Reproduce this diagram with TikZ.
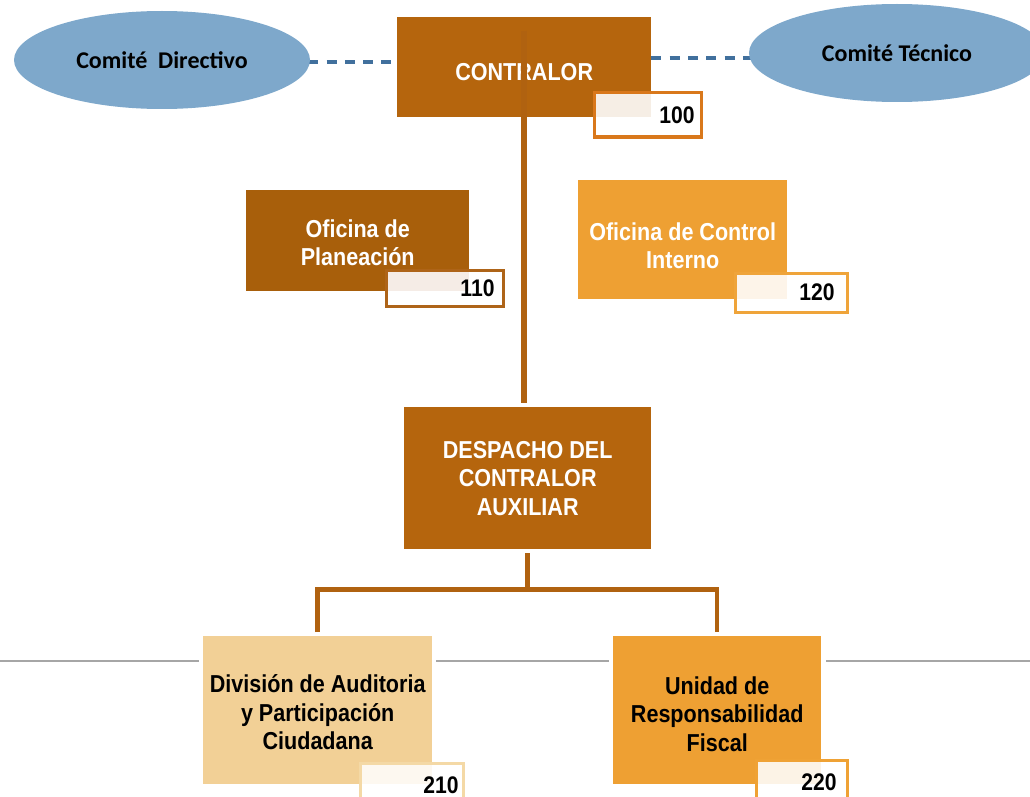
\documentclass[tikz,border=0pt]{standalone}
\usepackage{fontspec}
\newfontfamily\boxfont[FakeStretch=0.88]{Liberation Sans}
\newfontfamily\ellfont{Carlito}
\usetikzlibrary{shapes.geometric,calc}

\definecolor{chiefbrown}{HTML}{B5650D}
\definecolor{planbrown}{HTML}{A85F0B}
\definecolor{amber}{HTML}{EEA033}
\definecolor{sand}{HTML}{F2D096}
\definecolor{trunkbrown}{HTML}{B06210}
\definecolor{committee}{HTML}{7EA8CB}
\definecolor{dashblue}{HTML}{41709D}
\definecolor{rulegrey}{HTML}{A6A6A6}
\definecolor{bdA}{HTML}{D9781B}
\definecolor{bdB}{HTML}{AE6418}
\definecolor{bdC}{HTML}{EFA43A}
\definecolor{bdD}{HTML}{F4D9A6}
\definecolor{bdE}{HTML}{EFA235}
\definecolor{tintA}{HTML}{F6EEE5}
\definecolor{tintB}{HTML}{F5ECE6}
\definecolor{tintC}{HTML}{FDF4E9}
\definecolor{tintD}{HTML}{FDF8F0}
\definecolor{tintE}{HTML}{FCF3E6}

% invisible strut that lowers a centred text block a little
\newcommand{\lowerby}[1]{\rule{0pt}{#1}}

\pgfdeclarelayer{background}
\pgfsetlayers{background,main}

\begin{document}
\begin{tikzpicture}[x=1pt,y=-1pt,
  unit/.style={rectangle, anchor=north west, inner sep=0pt, align=center,
    font=\boxfont\bfseries\fontsize{24.5}{28.5}\selectfont},
  tag/.style={rectangle, anchor=north west, fill=white, line width=3pt,
    inner ysep=0pt, align=right, text=black,
    font=\boxfont\bfseries\fontsize{24}{28}\selectfont},
  board/.style={ellipse, fill=committee, inner sep=0pt,
    minimum width=296pt, minimum height=98pt,
    font=\ellfont\bfseries\fontsize{24}{28}\selectfont},
  trunk/.style={draw=trunkbrown, line width=5.5pt},
  branch/.style={draw=trunkbrown, line width=4.5pt},
  dashc/.style={draw=dashblue, line width=3.2pt, dash pattern=on 10pt off 8.3pt},
  rule/.style={draw=rulegrey, line width=2pt}]

\useasboundingbox (0,0) rectangle (1030,797);
\clip (0,0) rectangle (1030,797);

% committees
\node[board] (cd) at (162,60) {Comité~ Directivo};
\node[board] (ct) at (897,53) {Comité Técnico};

% top level
\node[unit, fill=chiefbrown, text=white, minimum width=254pt, minimum height=100pt]
  (ctrl) at (397,17) {\lowerby{26pt}CONTRALOR};
\node[tag, draw=bdA, text width=94pt, inner xsep=6.5pt, minimum height=44pt,
  path picture={\fill[tintA] (path picture bounding box.north west) rectangle (ctrl.south east);}]
  (n100) at (592.5,91.5) {100};

% staff offices
\node[unit, fill=planbrown, text=white, minimum width=223pt, minimum height=101pt]
  (plan) at (246,190) {\lowerby{22pt}Oficina de\\Planeación};
\node[tag, draw=bdB, text width=100pt, inner xsep=8.5pt, minimum height=36pt,
  path picture={\fill[tintB] (path picture bounding box.north west) rectangle (plan.south east);}]
  (n110) at (384.5,268.5) {110};

\node[unit, fill=amber, text=white, minimum width=209pt, minimum height=119pt]
  (oci) at (578,180) {\lowerby{30pt}Oficina de Control\\Interno};
\node[tag, draw=bdC, text width=87pt, inner xsep=12.5pt, minimum height=39pt,
  path picture={\fill[tintC] (path picture bounding box.north west) rectangle (oci.south east);}]
  (n120) at (733.5,271.5) {120};

% deputy office
\node[unit, fill=chiefbrown, text=white, minimum width=247pt, minimum height=142pt]
  (desp) at (404,407) {DESPACHO DEL\\CONTRALOR\\AUXILIAR};

% operating units
\node[unit, fill=sand, text=black, minimum width=229pt, minimum height=148pt]
  (div) at (203,636) {\lowerby{22pt}División de Auditoria\\y Participación\\Ciudadana};
\node[tag, draw=bdD, text width=94pt, inner xsep=4.5pt, minimum height=44pt,
  path picture={\fill[tintD] (path picture bounding box.north west) rectangle (div.south east);}]
  (n210) at (358.5,761.5) {210};

\node[unit, fill=amber, text=black, minimum width=208pt, minimum height=148pt]
  (urf) at (613,636) {\lowerby{25pt}Unidad de\\Responsabilidad\\Fiscal};
\node[tag, draw=bdE, text width=70pt, inner xsep=10.5pt, minimum height=44pt,
  path picture={\fill[tintE] (path picture bounding box.north west) rectangle (urf.south east);}]
  (n220) at (754.5,758.5) {220};

% reporting lines
\draw[trunk] ($(ctrl.north)+(0,14)$) -- ($(ctrl.north |- desp.north)+(0,-4)$);
\coordinate (fork) at ($(desp.south)+(0,40)$);
\draw[branch] ($(desp.south)+(0,4)$) -- (fork);
\draw[branch, line join=miter] ($(div.north)+(0,-4)$) |- (fork) -| ($(urf.north)+(0,-4)$);

\begin{pgfonlayer}{background}
  % advisory links to the committees
  \draw[dashc] ($(cd.east)+(-2,2)$) -- ($(cd.east -| ctrl.west)+(0,2)$);
  \draw[dashc] (ctrl.east |- 0,58) -- (ct.center |- 0,58);
  % horizontal guide rule
  \coordinate (ry) at (0,661);
  \draw[rule] (ry) -- ($(div.west |- ry)+(-4,0)$);
  \draw[rule] ($(div.east |- ry)+(4,0)$) -- ($(urf.west |- ry)+(-4,0)$);
  \draw[rule] ($(urf.east |- ry)+(5,0)$) -- (1030,661);
\end{pgfonlayer}
\end{tikzpicture}
\end{document}
